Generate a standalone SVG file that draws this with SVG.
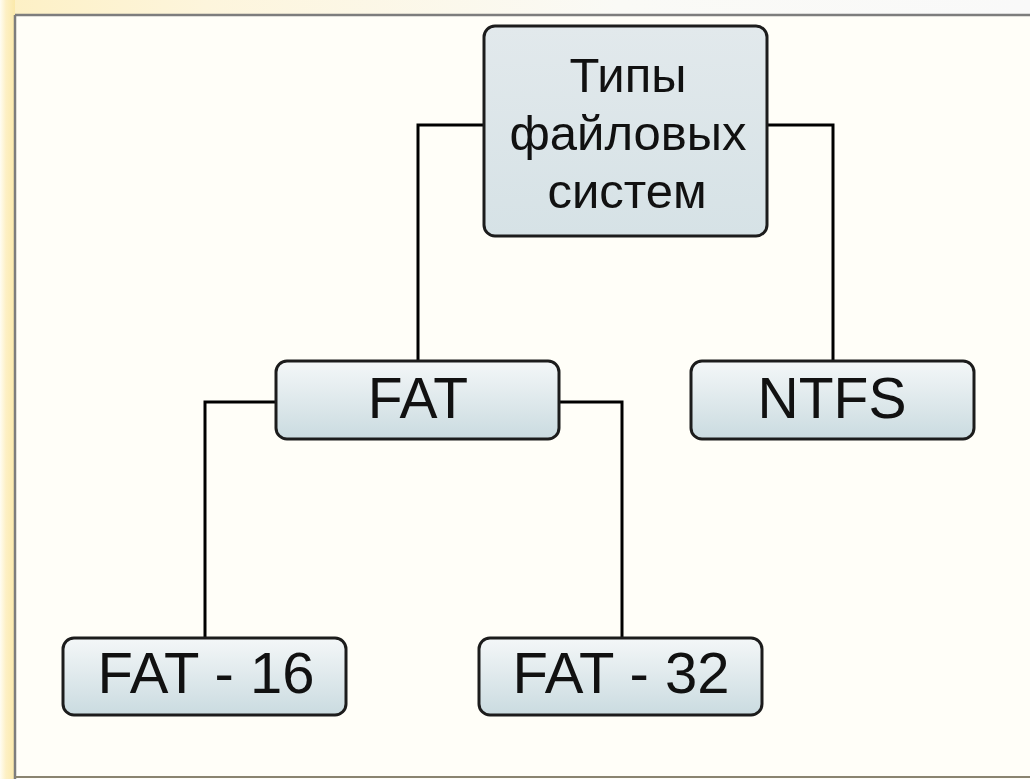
<svg xmlns="http://www.w3.org/2000/svg" width="1030" height="779" viewBox="0 0 1030 779">
  <defs>
    <linearGradient id="boxGrad" x1="0" y1="0" x2="0" y2="1">
      <stop offset="0" stop-color="#f4f7f8"/>
      <stop offset="1" stop-color="#cadbe0"/>
    </linearGradient>
    <linearGradient id="rootGrad" x1="0" y1="0" x2="0" y2="1">
      <stop offset="0" stop-color="#e2e9ec"/>
      <stop offset="1" stop-color="#d6e2e6"/>
    </linearGradient>
    <linearGradient id="leftStrip" x1="0" y1="0" x2="1" y2="0">
      <stop offset="0" stop-color="#fffdf3"/>
      <stop offset="0.4" stop-color="#fdf0c4"/>
      <stop offset="1" stop-color="#fbe9aa"/>
    </linearGradient>
    <linearGradient id="topStrip" x1="0" y1="0" x2="1" y2="0">
      <stop offset="0" stop-color="#fdf0c4"/>
      <stop offset="0.2" stop-color="#fdf5dc"/>
      <stop offset="0.6" stop-color="#fafaf6"/>
      <stop offset="1" stop-color="#f9f9f9"/>
    </linearGradient>
    <style>
      .box { stroke: #1c1c1c; stroke-width: 3; }
      .lbl { font-family: "Liberation Sans", Arial, sans-serif; fill: #111; text-anchor: middle; }
      .conn { fill: none; stroke: #000; stroke-width: 3; }
    </style>
  </defs>

  <!-- background -->
  <rect x="0" y="0" width="1030" height="779" fill="#fffef8"/>
  <rect x="0" y="0" width="1030" height="15" fill="url(#topStrip)"/>
  <rect x="0" y="0" width="15" height="779" fill="url(#leftStrip)"/>
  <line x1="15" y1="15" x2="1030" y2="15" stroke="#7d7d7d" stroke-width="2.5"/>
  <line x1="15" y1="15" x2="15" y2="779" stroke="#7d7d7d" stroke-width="2.5"/>
  <line x1="15" y1="777" x2="1030" y2="777" stroke="#8a8470" stroke-width="2"/>

  <!-- connectors -->
  <g id="connectors">
    <polyline class="conn" points="484,125 418,125 418,361"/>
    <polyline class="conn" points="767,125 833,125 833,361"/>
    <polyline class="conn" points="276,402 205,402 205,638"/>
    <polyline class="conn" points="559,402 622,402 622,638"/>
  </g>

  <g id="root">
    <rect class="box" x="484" y="26" width="283" height="210" rx="11" fill="url(#rootGrad)"/>
    <text class="lbl" x="628" y="92" font-size="49">Типы</text>
    <text class="lbl" x="628" y="150" font-size="49">файловых</text>
    <text class="lbl" x="627" y="208" font-size="49">систем</text>
  </g>

  <g id="fat">
    <rect class="box" x="276" y="361" width="283" height="78" rx="11" fill="url(#boxGrad)"/>
    <text class="lbl" x="418" y="418" font-size="57">FAT</text>
  </g>

  <g id="ntfs">
    <rect class="box" x="691" y="361" width="283" height="78" rx="11" fill="url(#boxGrad)"/>
    <text class="lbl" x="832" y="418" font-size="57">NTFS</text>
  </g>

  <g id="fat16">
    <rect class="box" x="63" y="638" width="283" height="77" rx="11" fill="url(#boxGrad)"/>
    <text class="lbl" x="206" y="693" font-size="58">FAT - 16</text>
  </g>

  <g id="fat32">
    <rect class="box" x="479" y="638" width="283" height="77" rx="11" fill="url(#boxGrad)"/>
    <text class="lbl" x="621" y="693" font-size="58">FAT - 32</text>
  </g>
</svg>
